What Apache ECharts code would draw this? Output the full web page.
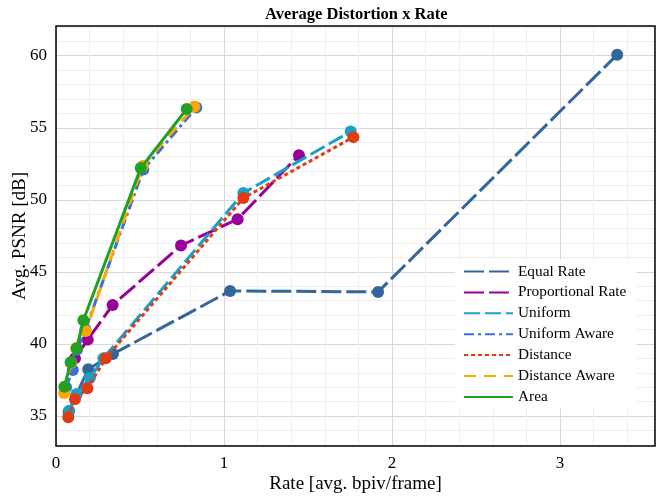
<!DOCTYPE html>
<html><head><meta charset="utf-8">
<script src="https://cdn.jsdelivr.net/npm/echarts@6/dist/echarts.min.js"></script>
<style>html,body{margin:0;padding:0;background:#fff}#c{width:663px;height:496px}</style>
</head><body><div id="c"></div>
<script>
// ---- data ----
const seriesNames = ["Equal Rate","Proportional Rate","Uniform","Uniform Aware","Distance","Distance Aware","Area"];
const equalRate = [[0.075,35.3],[0.12,36.45],[0.192,38.24],[0.339,39.3],[1.036,43.68],[1.917,43.61],[3.34,60.07]];
const proportionalRate = [[0.113,39.0],[0.189,40.3],[0.337,42.7],[0.744,46.83],[1.081,48.66],[1.446,53.1]];
const uniform = [[0.079,35.37],[0.123,36.53],[0.202,37.64],[0.282,39.0],[1.115,50.47],[1.754,54.74]];
const uniformAware = [[0.06,37.0],[0.1,38.2],[0.125,39.6],[0.175,41.0],[0.52,52.1],[0.835,56.4]];
const distance = [[0.073,34.91],[0.113,36.16],[0.187,36.92],[0.296,39.0],[1.115,50.12],[1.77,54.35]];
const distanceAware = [[0.048,36.6],[0.09,38.7],[0.12,39.7],[0.177,40.9],[0.516,52.35],[0.823,56.45]];
const area = [[0.05,37.03],[0.087,38.73],[0.123,39.7],[0.163,41.65],[0.504,52.2],[0.778,56.3]];
const xTicks = [0,1,2,3];
const yTicks = [35,40,45,50,55,60];
const xRange = [0, 3.565];
const yRange = [32.92, 62.06];

// ---- styling / layout ----
const W = 663, H = 496;
const G = {left:56, right:8, top:26, bottom:50};
const plotW = W - G.left - G.right, plotH = H - G.top - G.bottom;
const font = "'Liberation Serif','Times New Roman',serif";
const colors = ['#33669a','#990099','#1aa0c8','#3a70dc','#e03c14','#ffa500','#22a022'];
const dashes = [[20,5],[20,5],[16,5],[10,4,3,4],[4,3],[12,8],'solid'];
const allData = [equalRate, proportionalRate, uniform, uniformAware, distance, distanceAware, area];

// helper grid for horizontal gridlines at integer values
const yMinorMin = Math.ceil(yRange[0]), yMinorMax = Math.floor(yRange[1]);
const yPx = v => G.top + (yRange[1]-v)/(yRange[1]-yRange[0])*plotH;
const gridH = {left:G.left, right:G.right, top:yPx(yMinorMax), bottom:H - yPx(yMinorMin)};
// helper grid for vertical gridlines every 0.2
const xMinorMax = 3.4;
const xPx = v => G.left + (v-xRange[0])/(xRange[1]-xRange[0])*plotW;
const gridV = {left:G.left, right:W - xPx(xMinorMax), top:G.top, bottom:G.bottom};
const minorC = '#efefef', majorC = '#d8d8d8';
const hColors = [];
for (let v = yMinorMin; v < yMinorMin + 5; v++) hColors.push(v % 5 === 0 ? majorC : minorC);
const vColors = [majorC, minorC, minorC, minorC, minorC];

const series = allData.map((d,i) => ({
  name: seriesNames[i], type:'line', xAxisIndex:0, yAxisIndex:0,
  data: d, symbol:'circle', symbolSize:12, showSymbol:true,
  lineStyle:{color:colors[i], width:3, type:dashes[i]},
  itemStyle:{color:colors[i]},
  emphasis:{disabled:true}, animation:false, z: 3+i
}));

const gb = {containLabel:false, outerBoundsMode:'none'};
const chart = echarts.init(document.getElementById('c'), null, {renderer:'canvas'});
chart.setOption({
  animation:false,
  backgroundColor:'#fff',
  title:{text:'Average Distortion x Rate', left:260, top:1,
    textStyle:{fontFamily:font, fontWeight:'bold', fontSize:16.5, color:'#000'}},
  grid:[
    Object.assign({show:true, borderColor:'#000', borderWidth:1.5, backgroundColor:'transparent', z:5}, gb, G),
    Object.assign({show:false}, gb, gridH),
    Object.assign({show:false}, gb, gridV)
  ],
  xAxis:[
    {type:'value', gridIndex:0, min:xRange[0], max:xRange[1], interval:1,
     name:'Rate [avg. bpiv/frame]', nameLocation:'middle', nameGap:29, nameMoveOverlap:false,
     nameTextStyle:{fontFamily:font, fontSize:19, color:'#000'},
     axisLine:{show:false}, axisTick:{show:false}, splitLine:{show:false},
     axisLabel:{fontFamily:font, fontSize:17, color:'#000', margin:9, showMaxLabel:false,
       formatter: v => xTicks.includes(Math.round(v*1000)/1000) ? String(v) : ''}},
    {type:'value', gridIndex:1, min:0, max:1, show:false, splitLine:{show:false}},
    {type:'value', gridIndex:2, min:0, max:xMinorMax, interval:0.2,
     axisLine:{show:false}, axisTick:{show:false}, axisLabel:{show:false},
     splitLine:{show:true, lineStyle:{color:vColors, width:1}}}
  ],
  yAxis:[
    {type:'value', gridIndex:0, min:yRange[0], max:yRange[1],
     name:'Avg. PSNR [dB]', nameLocation:'middle', nameGap:26, nameMoveOverlap:false,
     nameTextStyle:{fontFamily:font, fontSize:19, color:'#000'},
     axisLine:{show:false}, axisTick:{show:false}, splitLine:{show:false},
     axisLabel:{fontFamily:font, fontSize:17, color:'#000', margin:9,
       formatter: v => yTicks.includes(Math.round(v*1000)/1000) ? String(v) : ''}},
    {type:'value', gridIndex:1, min:yMinorMin, max:yMinorMax, interval:1,
     axisLine:{show:false}, axisTick:{show:false}, axisLabel:{show:false},
     splitLine:{show:true, lineStyle:{color:hColors, width:1}}},
    {type:'value', gridIndex:2, min:0, max:1, show:false, splitLine:{show:false}}
  ],
  legend:{
    data:seriesNames, orient:'vertical', left:455, top:260,
    backgroundColor:'#fff', padding:[4,10,4,8], itemGap:5.9,
    itemWidth:49, itemHeight:14,
    itemStyle:{opacity:0},
    textStyle:{fontFamily:font, fontSize:15.3, color:'#000'},
    selectedMode:false
  },
  series: series
});
</script></body></html>
